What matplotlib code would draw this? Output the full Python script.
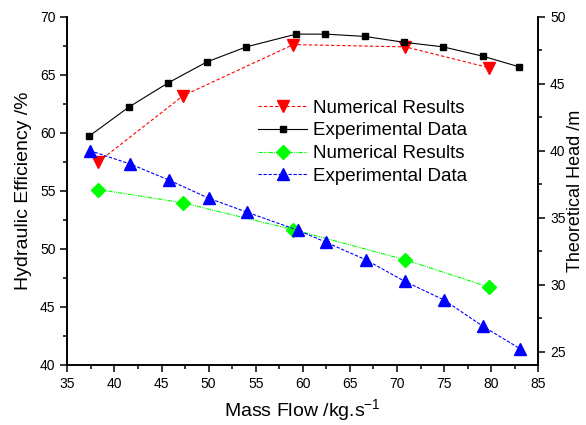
import matplotlib
matplotlib.use("Agg")
import matplotlib.pyplot as plt
from matplotlib.ticker import MultipleLocator

plt.rcParams['font.family'] = ['Liberation Sans', 'DejaVu Sans']

# hydraulic efficiency (left axis)
eff_num_flow = [38.3, 47.3, 59.0, 70.9, 79.8]
eff_num = [57.5, 63.2, 67.6, 67.4, 65.6]
eff_exp_flow = [37.3, 41.5, 45.7, 49.8, 54.0, 59.3, 62.4, 66.6, 70.7, 74.9, 79.1, 82.9]
eff_exp = [59.7, 62.2, 64.3, 66.1, 67.4, 68.5, 68.5, 68.3, 67.8, 67.4, 66.6, 65.7]

# theoretical head (right axis)
head_num_flow = [38.3, 47.3, 59.0, 70.9, 79.8]
head_num = [37.1, 36.1, 34.1, 31.85, 29.8]
head_exp_flow = [37.4, 41.7, 45.8, 50.0, 54.1, 59.5, 62.5, 66.7, 70.8, 75.0, 79.1, 83.1]
head_exp = [40.0, 39.0, 37.8, 36.45, 35.4, 34.05, 33.15, 31.85, 30.25, 28.85, 26.9, 25.2]

fig = plt.figure(figsize=(5.86, 4.25), dpi=100)
ax = fig.add_axes([0.1149, 0.1412, 0.8037, 0.8195])
ax2 = ax.twinx()

l1, = ax.plot(eff_num_flow, eff_num, color='red', ls=(0, (3, 2)), lw=0.8,
              marker='v', ms=8.5, label='Numerical Results')
l2, = ax.plot(eff_exp_flow, eff_exp, color='black', ls='-', lw=0.8,
              marker='s', ms=5, label='Experimental Data')
l3, = ax2.plot(head_num_flow, head_num, color='#00ff00', ls=(0, (4, 1, 1, 1, 1, 1)), lw=0.8,
               marker='D', ms=7, label='Numerical Results')
l4, = ax2.plot(head_exp_flow, head_exp, color='blue', ls=(0, (3, 1.5)), lw=0.8,
               marker='^', ms=8.5, label='Experimental Data')

ax.set_xlim(35, 85)
ax.set_ylim(40, 70)
ax2.set_ylim(24, 50)
ax.xaxis.set_major_locator(MultipleLocator(5))
ax.xaxis.set_minor_locator(MultipleLocator(2.5))
ax.yaxis.set_major_locator(MultipleLocator(5))
ax.yaxis.set_minor_locator(MultipleLocator(2.5))
ax2.yaxis.set_major_locator(MultipleLocator(5))
ax2.yaxis.set_minor_locator(MultipleLocator(2.5))

for a in (ax, ax2):
    a.spines['top'].set_visible(False)
    for s in a.spines.values():
        s.set_linewidth(1.2)
    a.tick_params(which='major', direction='out', length=5, width=1.1, labelsize=10)
    a.tick_params(which='minor', direction='out', length=3, width=1.1)
ax.tick_params(axis='y', which='both', right=False)

ax.set_xlabel('Mass Flow /kg.s$^{\\mathregular{-1}}$', fontsize=14, labelpad=5)
ax.set_ylabel('Hydraulic Efficiency /%', fontsize=14, labelpad=6)
ax2.set_ylabel('Theoretical Head /m', fontsize=13, labelpad=1)

ax2.legend([l1, l2, l3, l4], [h.get_label() for h in (l1, l2, l3, l4)],
           loc='upper left', bbox_to_anchor=(0.425, 0.788), bbox_transform=fig.transFigure,
           frameon=False, fontsize=13.5, handlelength=2.6, labelspacing=0.3,
           handletextpad=0.3, borderpad=0)

fig.savefig('out.png', dpi=100)
